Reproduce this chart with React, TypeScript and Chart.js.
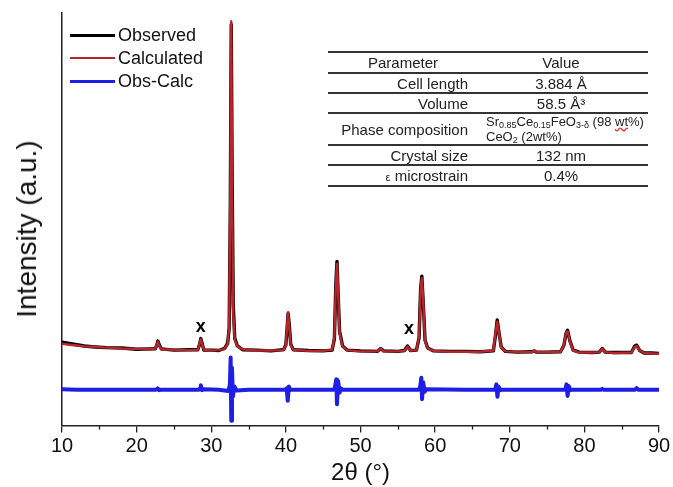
import React, { useEffect, useRef } from "react";
import { Chart, registerables } from "chart.js";

Chart.register(...registerables);

const FONT = "'Liberation Sans', Arial, sans-serif";

// Observed / calculated profile (2θ in degrees, intensity in a.u.)
const profileX = [
  10.0, 11.0, 12.0, 13.0, 14.0, 15.0, 16.0, 18.0, 20.0, 22.0, 22.5, 22.7, 22.85, 23.0, 23.3,
  25.0, 27.0, 28.2, 28.45, 28.6, 28.75, 29.0, 30.0, 31.0, 31.8, 32.2, 32.4, 32.55, 32.68, 32.8,
  32.95, 33.15, 33.5, 34.2, 36.0, 38.0, 39.7, 40.0, 40.15, 40.3, 40.45, 40.65, 41.0, 43.0, 45.0,
  46.2, 46.5, 46.7, 46.85, 47.0, 47.2, 47.4, 47.6, 48.2, 50.0, 52.3, 52.7, 53.1, 55.0, 55.9,
  56.3, 56.7, 57.5, 57.85, 58.05, 58.22, 58.4, 58.65, 59.0, 59.8, 62.0, 64.0, 66.0, 67.8, 68.1,
  68.32, 68.55, 68.85, 69.4, 71.0, 73.0, 73.3, 73.6, 75.0, 76.8, 77.25, 77.55, 77.75, 78.05, 78.5,
  79.3, 81.0, 82.0, 82.4, 82.8, 84.0, 86.3, 86.75, 87.0, 87.4, 88.0, 89.0, 90.0,
];
const calculatedY = [
  198, 196, 194, 192, 191, 190, 189, 187, 186, 185, 186, 196, 203, 196, 185,
  184, 183, 184, 199, 209, 199, 184, 182, 183, 186, 198, 240, 560, 980, 560,
  270, 208, 192, 185, 182, 182, 183, 195, 240, 275, 240, 195, 184, 181, 181,
  184, 215, 340, 392, 330, 225, 207, 192, 183, 180, 180, 187, 180, 180, 181,
  191, 182, 183, 215, 330, 357, 305, 205, 187, 181, 179, 179, 179, 182, 225,
  252, 225, 190, 180, 179, 178, 181, 178, 178, 179, 195, 225, 228, 205, 182,
  177, 177, 178, 186, 178, 176, 177, 191, 193, 182, 176, 175, 174,
];
const observedY = [
  202, 199, 196, 193, 191, 190, 189, 188, 185, 186, 186, 195, 205, 197, 186,
  183, 184, 184, 198, 211, 201, 183, 183, 182, 187, 200, 236, 520, 972, 600,
  290, 212, 193, 184, 183, 181, 184, 196, 232, 272, 246, 197, 184, 182, 181,
  183, 210, 345, 398, 320, 228, 211, 193, 183, 181, 180, 187, 181, 180, 182,
  193, 182, 183, 213, 330, 362, 300, 207, 188, 181, 180, 180, 179, 181, 220,
  256, 226, 191, 180, 178, 179, 181, 178, 178, 179, 194, 224, 231, 206, 183,
  178, 177, 178, 187, 178, 177, 177, 193, 195, 182, 176, 176, 175,
];

// Difference curve (Obs-Calc), drawn offset below the profile
const diffX = [
  10, 12, 15, 20, 22.6, 22.8, 23.0, 23.2, 25, 28.35, 28.5, 28.6, 28.75, 29.0, 31.0, 32.3, 32.5,
  32.6, 32.68, 32.78, 32.9, 33.1, 33.4, 35, 39.95, 40.1, 40.25, 40.4, 40.55, 40.7, 46.45, 46.6,
  46.75, 46.85, 47.0, 47.2, 47.4, 47.6, 50, 57.85, 58.0, 58.15, 58.25, 58.4, 58.6, 58.8, 64,
  68.05, 68.2, 68.35, 68.5, 68.7, 68.9, 73, 77.45, 77.6, 77.75, 77.9, 78.1, 78.3, 82.2, 82.4,
  82.6, 86.8, 87, 87.2, 90,
];
const diffY = [
  88, 87, 87, 87, 87, 90, 86, 87, 87, 87, 90, 98, 86, 88, 87, 84, 100,
  165, 12, 140, 70, 95, 85, 87, 87, 90, 60, 95, 86, 87, 87, 95,
  112, 52, 108, 80, 90, 87, 87, 87, 95, 116, 64, 105, 82, 88, 87,
  87, 100, 70, 95, 86, 87, 87, 87, 100, 72, 96, 86, 87, 87, 89,
  87, 87, 91, 87, 87,
];

// Impurity (CeO2) markers
const markerX = [28.6, 56.5];
const markerY = [240, 235];
const markerText = "x";

const minorTicks = [15, 25, 35, 45, 55, 65, 75, 85];

const seriesLabels = ["Observed", "Calculated", "Obs-Calc"];
const seriesColors = ["#000000", "#b8262c", "#1e1ee6"];

const xTitle = "2θ (°)";
const yTitle = "Intensity (a.u.)";

const tableHeader = ["Parameter", "Value"];
const tableParams = ["Cell length", "Volume", "Phase composition", "Crystal size", "ε microstrain"];
const tableValues = ["3.884 Å", "58.5 Å³", "", "132 nm", "0.4%"];

const extrasPlugin = {
  id: "extras",
  afterDraw(chart: any) {
    const { ctx, chartArea, scales } = chart;
    const xs = scales.x;
    const ys = scales.y;
    ctx.save();
    ctx.strokeStyle = "#222";
    ctx.lineWidth = 1.3;
    for (const v of minorTicks) {
      const px = Math.round(xs.getPixelForValue(v)) + 0.5;
      ctx.beginPath();
      ctx.moveTo(px, chartArea.bottom);
      ctx.lineTo(px, chartArea.bottom + 4);
      ctx.stroke();
    }
    ctx.fillStyle = "#000";
    ctx.font = `bold 18px ${FONT}`;
    ctx.textAlign = "center";
    ctx.textBaseline = "middle";
    markerX.forEach((mx, i) => {
      ctx.fillText(markerText, xs.getPixelForValue(mx), ys.getPixelForValue(markerY[i]));
    });
    ctx.restore();
  },
};

const subStyle: React.CSSProperties = { fontSize: 9, verticalAlign: "-2px", lineHeight: 0 };

function PhaseValue() {
  return (
    <div style={{ fontSize: 13, lineHeight: "15px", textAlign: "left", paddingLeft: 8, whiteSpace: "nowrap" }}>
      <div>
        Sr<span style={subStyle}>0.85</span>Ce<span style={subStyle}>0.15</span>FeO
        <span style={subStyle}>3-δ</span> (98{" "}
        <span style={{ textDecoration: "underline wavy #e03030" }}>wt</span>%)
      </div>
      <div>
        CeO<span style={subStyle}>2</span> (2wt%)
      </div>
    </div>
  );
}

function ParamTable() {
  const rowHeights = [21, 20, 20, 32, 20, 21];
  const rows = [
    { label: tableHeader[0], value: tableHeader[1], header: true },
    ...tableParams.map((p, i) => ({ label: p, value: tableValues[i], header: false })),
  ];
  return (
    <div
      style={{
        position: "absolute",
        left: 328,
        top: 51,
        width: 320,
        borderBottom: "2px solid #333",
        fontFamily: FONT,
        fontSize: 15,
        color: "#222",
      }}
    >
      {rows.map((r, i) => (
        <div
          key={i}
          style={{
            height: rowHeights[i],
            boxSizing: "border-box",
            borderTop: "2px solid #333",
            display: "flex",
            alignItems: "center",
          }}
        >
          <div
            style={{
              width: 150,
              boxSizing: "border-box",
              textAlign: r.header ? "center" : "right",
              paddingRight: r.header ? 0 : 10,
            }}
          >
            {i === 5 ? (
              <span>
                <span style={{ fontSize: 11 }}>ε</span> microstrain
              </span>
            ) : (
              r.label
            )}
          </div>
          <div style={{ width: 166, textAlign: "center" }}>
            {i === 3 ? <PhaseValue /> : r.value}
          </div>
        </div>
      ))}
    </div>
  );
}

function Legend() {
  const tops = [35, 58, 81];
  const widths = [3, 2, 3];
  return (
    <>
      {seriesLabels.map((l, i) => (
        <div key={l}>
          <div
            style={{
              position: "absolute",
              left: 70,
              top: tops[i] - widths[i] / 2,
              width: 45,
              height: widths[i],
              background: seriesColors[i],
            }}
          />
          <div
            style={{
              position: "absolute",
              left: 118,
              top: tops[i] - 11,
              height: 22,
              lineHeight: "22px",
              fontFamily: FONT,
              fontSize: 18,
              color: "#111",
              whiteSpace: "nowrap",
            }}
          >
            {l}
          </div>
        </div>
      ))}
    </>
  );
}

export default function App() {
  const canvasRef = useRef<HTMLCanvasElement | null>(null);

  useEffect(() => {
    const canvas = canvasRef.current;
    if (!canvas) return;
    const lineStyle = { pointRadius: 0, tension: 0, borderJoinStyle: "round" as const, borderCapStyle: "round" as const };
    const chart = new Chart(canvas, {
      type: "line",
      data: {
        datasets: [
          {
            label: seriesLabels[1],
            data: profileX.map((x, i) => ({ x, y: calculatedY[i] })),
            borderColor: seriesColors[1],
            borderWidth: 2.4,
            order: 1,
            ...lineStyle,
          },
          {
            label: seriesLabels[0],
            data: profileX.map((x, i) => ({ x, y: observedY[i] })),
            borderColor: seriesColors[0],
            borderWidth: 3.4,
            order: 2,
            ...lineStyle,
          },
          {
            label: seriesLabels[2],
            data: diffX.map((x, i) => ({ x, y: diffY[i] })),
            borderColor: seriesColors[2],
            borderWidth: 4,
            order: 3,
            ...lineStyle,
          },
        ],
      },
      options: {
        animation: false,
        responsive: false,
        devicePixelRatio: 1,
        layout: { padding: { left: 54, right: 14, top: 13, bottom: 0 } },
        plugins: { legend: { display: false }, tooltip: { enabled: false } },
        scales: {
          x: {
            type: "linear",
            min: 10,
            max: 90,
            ticks: {
              stepSize: 10,
              autoSkip: false,
              maxRotation: 0,
              padding: 2,
              color: "#111",
              font: { family: FONT, size: 20 },
            },
            grid: {
              display: true,
              drawOnChartArea: false,
              drawTicks: true,
              tickLength: 7,
              color: "#222",
              lineWidth: 1.3,
            },
            border: { display: true, color: "#222", width: 1.5 },
            title: {
              display: true,
              text: xTitle,
              color: "#111",
              font: { family: FONT, size: 24, lineHeight: 1.1 },
              padding: 0,
            },
          },
          y: {
            type: "linear",
            min: 0,
            max: 1000,
            ticks: { display: false },
            grid: { display: false },
            border: { display: true, color: "#222", width: 1.5 },
          },
        },
      },
      plugins: [extrasPlugin],
    });
    return () => chart.destroy();
  }, []);

  return (
    <div
      style={{
        position: "fixed",
        left: 0,
        top: 0,
        width: 673,
        height: 487,
        background: "#fff",
        overflow: "hidden",
      }}
    >
      <canvas ref={canvasRef} width={673} height={487} style={{ display: "block" }} />
      <Legend />
      <ParamTable />
      <div
        style={{
          position: "absolute",
          left: 27,
          top: 229,
          transform: "translate(-50%, -50%) rotate(-90deg)",
          fontFamily: FONT,
          fontSize: 28,
          color: "#111",
          whiteSpace: "nowrap",
        }}
      >
        {yTitle}
      </div>
    </div>
  );
}
